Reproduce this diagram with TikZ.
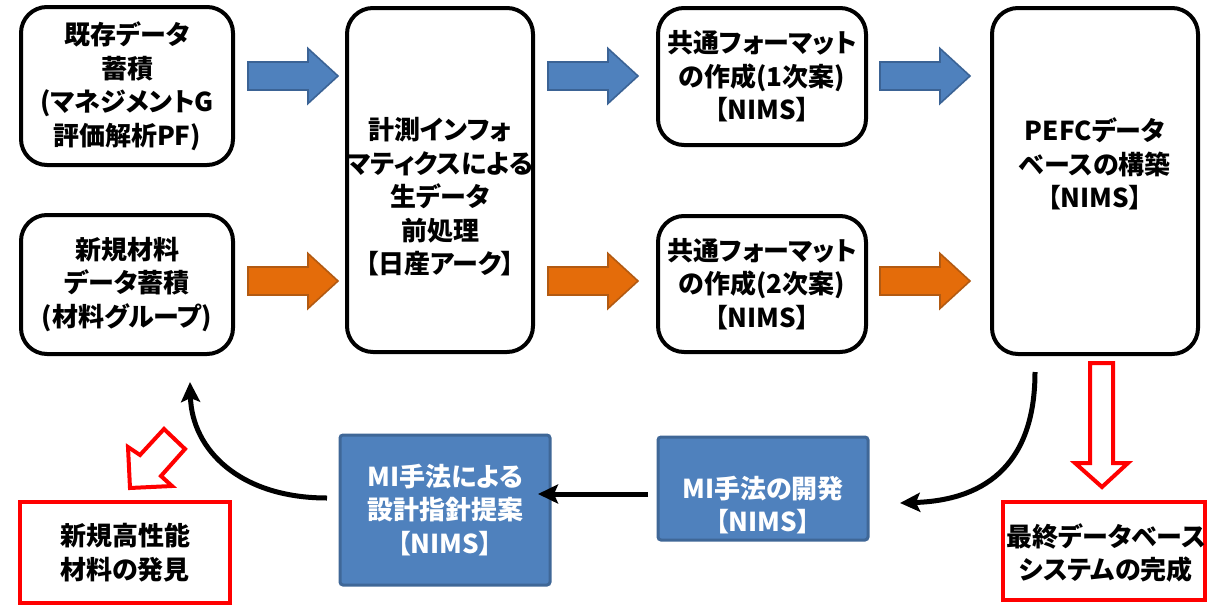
\documentclass[tikz,border=0pt]{standalone}
\usepackage{fontspec}
\setmainfont{Noto Sans CJK JP}[RawFeature=+palt]
\usetikzlibrary{arrows.meta,calc}
\definecolor{arBlue}{HTML}{4F81BD}
\definecolor{arBlueDk}{HTML}{3B6395}
\definecolor{arOrange}{HTML}{E46C0A}
\definecolor{arOrangeDk}{HTML}{B25A12}
\definecolor{bxBlue}{HTML}{4F81BD}
\definecolor{bxBlueDk}{HTML}{3F6797}
\newcommand\blockarr[4]{%
  \filldraw[fill=#3, draw=#4, line width=1.6pt, line join=miter]
    (#1,#2-14) -- (#1+60,#2-14) -- (#1+60,#2-27.5) -- (#1+90,#2)
    -- (#1+60,#2+27.5) -- (#1+60,#2+14) -- (#1,#2+14) -- cycle;}
\begin{document}
\begin{tikzpicture}[x=1pt,y=-1pt,
  every node/.style={font=\fontsize{26}{33.5}\selectfont\bfseries, align=center, inner sep=0pt, outer sep=0pt},
  rbox/.style={draw=black, line width=4pt, rounded corners=26pt, fill=white},
  bbox/.style={draw=bxBlueDk, line width=3pt, rounded corners=3pt, fill=bxBlue, text=white},
  redbox/.style={draw=red, line width=4pt, fill=white},
  flow/.style={line width=5pt, -{Stealth[length=20pt,width=19pt,inset=4pt]}},
  hollow/.style={draw=red, line width=4pt, fill=white, line join=miter},
]
\useasboundingbox (0,0) rectangle (1207,605);
\fill[white] (0,0) rectangle (1207,605);

% top boxes
\node[rbox, minimum width=212pt, minimum height=158pt] (A) at (127,86)
  {既存データ\\蓄積\\(マネジメントG\\評価解析PF)};
\node[rbox, minimum width=212pt, minimum height=139pt] (B) at (127,284.5)
  {新規材料\\データ蓄積\\(材料グループ)};
\node[rbox, minimum width=186pt, minimum height=344pt] (C) at (440,180) {};
\node (Ct) at (440,197) {計測インフォ\\マティクスによる\\生データ\\前処理\\【日産アーク】};
\node[rbox, minimum width=208pt, minimum height=137pt] (D1) at (762,76.5)
  {共通フォーマット\\の作成(1次案)\\【NIMS】};
\node[rbox, minimum width=208pt, minimum height=136pt] (D2) at (762,284)
  {共通フォーマット\\の作成(2次案)\\【NIMS】};
\node[rbox, minimum width=206pt, minimum height=346pt] (E) at (1095,181) {};
\node (Et) at (1095,164) {PEFCデータ\\ベースの構築\\【NIMS】};

% block arrows
\blockarr{248}{76}{arBlue}{arBlueDk}
\blockarr{548}{76}{arBlue}{arBlueDk}
\blockarr{880}{76}{arBlue}{arBlueDk}
\blockarr{248}{281}{arOrange}{arOrangeDk}
\blockarr{548}{281}{arOrange}{arOrangeDk}
\blockarr{880}{281}{arOrange}{arOrangeDk}

% bottom boxes
\node[bbox, minimum width=210pt, minimum height=150pt] (M1) at (445,510)
  {MI手法による\\設計指針提案\\【NIMS】};
\node[bbox, minimum width=210pt, minimum height=103pt] (M2) at (763,488.5) {};
\node[text=white] (M2t) at (763,505) {MI手法の開発\\【NIMS】};
\node[redbox, minimum width=210pt, minimum height=101pt] (R1) at (125,552.5)
  {新規高性能\\材料の発見};
\node[redbox, minimum width=202pt, minimum height=98pt] (R2) at (1104,551) {};
\node (R2t) at (1106,553) {最終データベース\\システムの完成};

% connectors
\coordinate (Eout) at (1035,372);
\coordinate (M2in) at (900,503);
\draw[flow] (Eout) .. controls (1035,460) and (990,500) .. (M2in);
\draw[flow] ([xshift=-10pt,yshift=-5.5pt]M2.west) -- ([xshift=-12pt]M1.east |- 0,494);
\coordinate (M1out) at (327,498);
\coordinate (Bin) at (190,382);
\draw[flow] (M1out) .. controls (240,498) and (192,450) .. (Bin);

% red hollow arrows
\draw[hollow] (1090,363) -- (1113,363) -- (1113,463) -- (1128,463) -- (1102,487)
  -- (1075,463) -- (1090,463) -- cycle;
\draw[hollow] (164,429) -- (140,455) -- (128,447) -- (130,488) -- (172,486)
  -- (161,476) -- (185,449) -- cycle;
\end{tikzpicture}
\end{document}
